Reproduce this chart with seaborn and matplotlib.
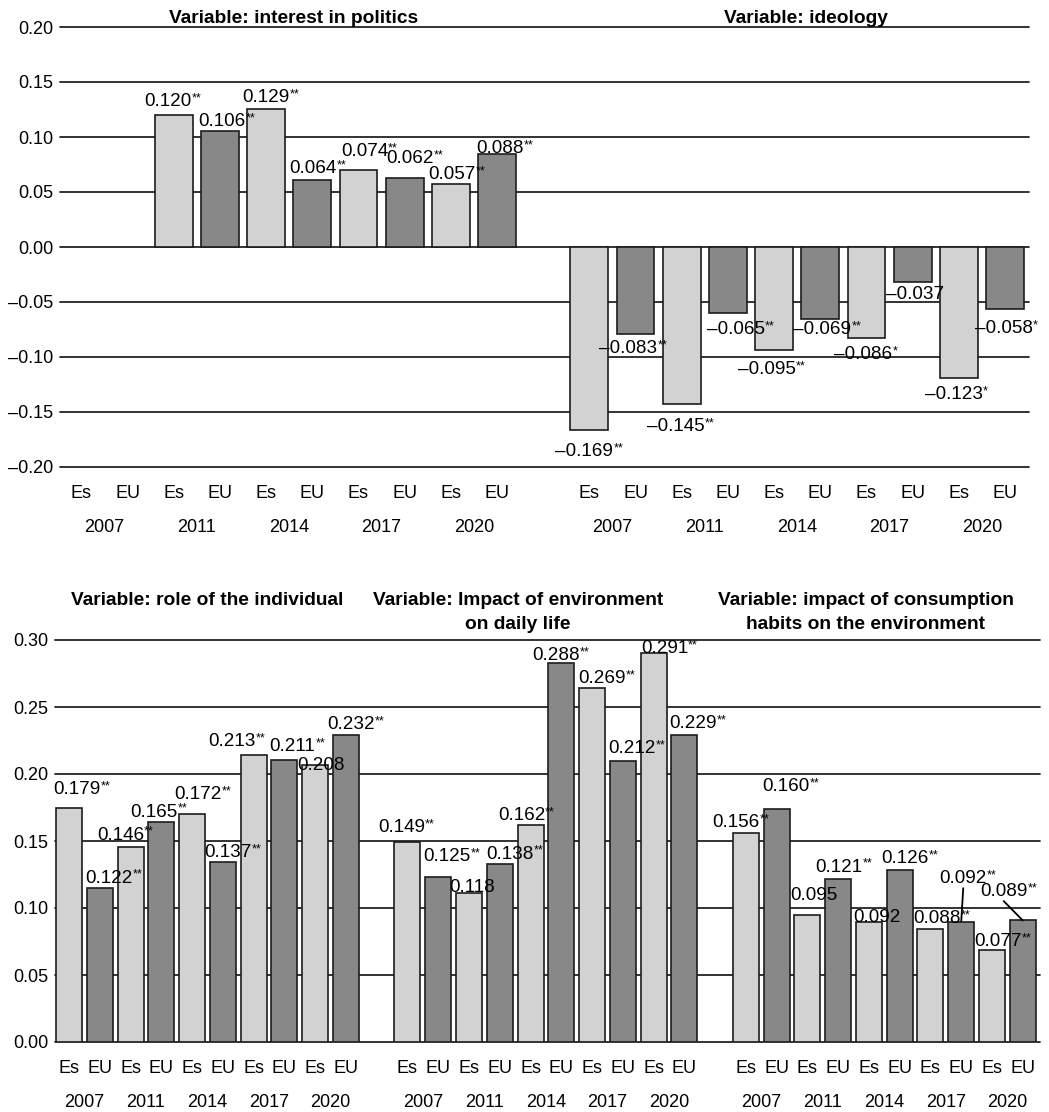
import numpy as np
import pandas as pd
import matplotlib
matplotlib.use("Agg")
import matplotlib.pyplot as plt
import seaborn as sns

years = ["2007", "2011", "2014", "2017", "2020"]
countries = ["Es", "EU"]

# bar heights as drawn, labels as printed (they differ a little in the source)
politics_es = [np.nan, 0.1197, 0.1258, 0.0700, 0.0576]
politics_eu = [np.nan, 0.1055, 0.0606, 0.0630, 0.0843]
politics_es_lab = ["", "0.120**", "0.129**", "0.074**", "0.057**"]
politics_eu_lab = ["", "0.106**", "0.064**", "0.062**", "0.088**"]

ideology_es = [-0.1666, -0.1430, -0.0936, -0.0827, -0.1194]
ideology_eu = [-0.0793, -0.0603, -0.0651, -0.0318, -0.0566]
ideology_es_lab = ["–0.169**", "–0.145**", "–0.095**", "–0.086*", "–0.123*"]
ideology_eu_lab = ["–0.083**", "–0.065**", "–0.069**", "–0.037", "–0.058*"]

role_es = [0.1749, 0.1457, 0.1699, 0.2142, 0.2065]
role_eu = [0.1151, 0.1644, 0.1342, 0.2105, 0.2289]
role_es_lab = ["0.179**", "0.146**", "0.172**", "0.213**", "0.208"]
role_eu_lab = ["0.122**", "0.165**", "0.137**", "0.211**", "0.232**"]

env_es = [0.1495, 0.1113, 0.1617, 0.2641, 0.2900]
env_eu = [0.1230, 0.1330, 0.2825, 0.2097, 0.2292]
env_es_lab = ["0.149**", "0.118", "0.162**", "0.269**", "0.291**"]
env_eu_lab = ["0.125**", "0.138**", "0.288**", "0.212**", "0.229**"]

cons_es = [0.1562, 0.0946, 0.0894, 0.0847, 0.0690]
cons_eu = [0.1736, 0.1218, 0.1280, 0.0899, 0.0907]
cons_es_lab = ["0.156**", "0.095", "0.092", "0.088**", "0.077**"]
cons_eu_lab = ["0.160**", "0.121**", "0.126**", "0.092**", "0.089**"]

top_titles = ["Variable: interest in politics", "Variable: ideology"]
bottom_titles = ["Variable: role of the individual",
                 "Variable: Impact of environment\non daily life",
                 "Variable: impact of consumption\nhabits on the environment"]

top_ticks = np.arange(-0.20, 0.201, 0.05)
bottom_ticks = np.arange(0.0, 0.301, 0.05)

palette = {"Es": "#d2d2d2", "EU": "#888888"}
FS_TICK = 13
FS_VAL = 13.6
FS_TITLE = 13.8
PX = 0.72  # points per pixel at dpi 100

# label nudges in pixels: pos -> (dx, distance of digit centre from bar end)
top_nudge = {2: (-6, 16), 3: (2, 12), 4: (0, 13), 5: (1, 14), 6: (6, 21), 7: (5, 21),
             8: (1, 11), 9: (3, 8), 11: (-5, 19), 12: (-7, 12), 13: (-6, 20), 14: (8, 14),
             15: (-7, 17), 16: (2, 9), 17: (-3, 14), 18: (2, 10), 19: (-5, 14), 20: (-1, 17)}
bottom_nudge = {0: (8, 20), 1: (9, 12), 2: (-10, 14), 3: (-7, 12), 4: (6, 22), 5: (5, 12),
                6: (-22, 16), 7: (8, 16), 8: (6, 2), 9: (5, 13),
                11: (-6, 16), 12: (9, 23), 13: (3, 8), 14: (10, 12), 15: (-9, 12), 16: (-5, 10),
                17: (10, 12), 18: (9, 15), 19: (11, 7), 20: (9, 14),
                22: (-10, 12), 23: (9, 25), 24: (6, 22), 25: (1, 14), 26: (8, 7), 27: (5, 14),
                28: (7, 12), 29: (2, 45), 30: (6, 10), 31: (-19, 31)}
leaders = {29, 31}


def build(panels, starts):
    rows = []
    for (es, eu, es_lab, eu_lab), start in zip(panels, starts):
        for i, yr in enumerate(years):
            for j, (c, vals, labs) in enumerate(zip(countries, (es, eu), (es_lab, eu_lab))):
                rows.append({"pos": start + 2 * i + j, "value": vals[i], "label": labs[i],
                             "country": c, "year": yr})
    return pd.DataFrame(rows)


def put_label(ax, x, y, lab, dx, dist, leader=False):
    num = lab.rstrip("*")
    stars = lab[len(num):]
    half = 6.8  # half the digit height in px
    if y >= 0:
        off = (dist - half) * PX
    else:
        off = -(dist + half) * PX
    t = ax.annotate(num, xy=(x, y), xytext=(dx * PX, off), textcoords="offset points",
                    ha="center", va="baseline", fontsize=FS_VAL, zorder=5)
    if stars:
        ax.annotate(stars, xy=(1, 1), xycoords=t, xytext=(0, 0.5), textcoords="offset points",
                    ha="left", va="top", fontsize=9, zorder=5)
    if leader:
        ax.annotate("", xy=(x, y), xytext=(dx * PX, off - 3.5), textcoords="offset points",
                    arrowprops=dict(arrowstyle="-", lw=1.3, color="black",
                                    shrinkA=0, shrinkB=0), zorder=5)


def draw(ax, df, starts, ticks, xlim, bar_w, nudge, titles, title_x, title_off, leader_pos):
    for t in ticks:
        ax.axhline(t, color="#1a1a1a", lw=1.25, zorder=1, clip_on=False)
    sns.barplot(data=df.dropna(subset=["value"]), x="pos", y="value", hue="country",
                palette=palette, native_scale=True, dodge=False, width=bar_w, saturation=1,
                edgecolor="#1c1c1c", linewidth=1.2, errorbar=None, legend=False, ax=ax, zorder=2)
    ax.set_xlim(*xlim)
    ax.set_ylim(ticks[0], ticks[-1])
    ax.set_xticks(df["pos"].values)
    ax.set_xticklabels(df["country"].values, fontsize=FS_TICK)
    ax.set_yticks(ticks)
    ax.set_yticklabels([f"{v:.2f}".replace("-", "–") for v in np.round(ticks, 2) + 0.0],
                       fontsize=FS_TICK)
    ax.tick_params(axis="x", length=0, pad=13, colors="black")
    ax.tick_params(axis="y", length=0, pad=5, colors="black")
    ax.set_xlabel("")
    ax.set_ylabel("")
    for s in ax.spines.values():
        s.set_visible(False)
    for start in starts:
        for i, yr in enumerate(years):
            ax.annotate(yr, xy=(start + 2 * i + 0.5, 0), xycoords=("data", "axes fraction"),
                        xytext=(0, -46.5), textcoords="offset points", ha="center",
                        va="baseline", fontsize=FS_TICK)
    for row in df.dropna(subset=["value"]).itertuples():
        dx, dist = nudge.get(row.pos, (0, 14))
        put_label(ax, row.pos, row.value, row.label, dx, dist, leader=(row.pos in leader_pos))
    # titles line by line so the first line of every title sits at the same height
    for txt, x in zip(titles, title_x):
        for k, line in enumerate(txt.split("\n")):
            ax.annotate(line, xy=(x, 1), xycoords=("data", "axes fraction"),
                        xytext=(0, title_off - k * 17.3), textcoords="offset points",
                        ha="center", va="baseline", fontsize=FS_TITLE, fontweight="bold")


sns.set_style("white")
plt.rcParams["font.family"] = ["Liberation Sans", "DejaVu Sans"]
plt.rcParams["text.color"] = "black"

fig = plt.figure(figsize=(10.49, 11.12), dpi=100)
ax1 = fig.add_axes([60 / 1049, 1 - 467 / 1112, 969 / 1049, 440 / 1112])
ax2 = fig.add_axes([55 / 1049, 1 - 1042 / 1112, 985 / 1049, 402 / 1112])

top_starts = [0, 11]
top_df = build([(politics_es, politics_eu, politics_es_lab, politics_eu_lab),
                (ideology_es, ideology_eu, ideology_es_lab, ideology_eu_lab)], top_starts)
draw(ax1, top_df, top_starts, top_ticks, (-0.463, 20.52), 0.82, top_nudge,
     top_titles, [4.6, 15.7], 2.7, set())

bottom_starts = [0, 11, 22]
bottom_df = build([(role_es, role_eu, role_es_lab, role_eu_lab),
                   (env_es, env_eu, env_es_lab, env_eu_lab),
                   (cons_es, cons_eu, cons_es_lab, cons_eu_lab)], bottom_starts)
draw(ax2, bottom_df, bottom_starts, bottom_ticks, (-0.455, 31.56), 0.845, bottom_nudge,
     bottom_titles, [4.5, 14.6, 25.9], 25, leaders)

fig.savefig("out.png", dpi=100)
